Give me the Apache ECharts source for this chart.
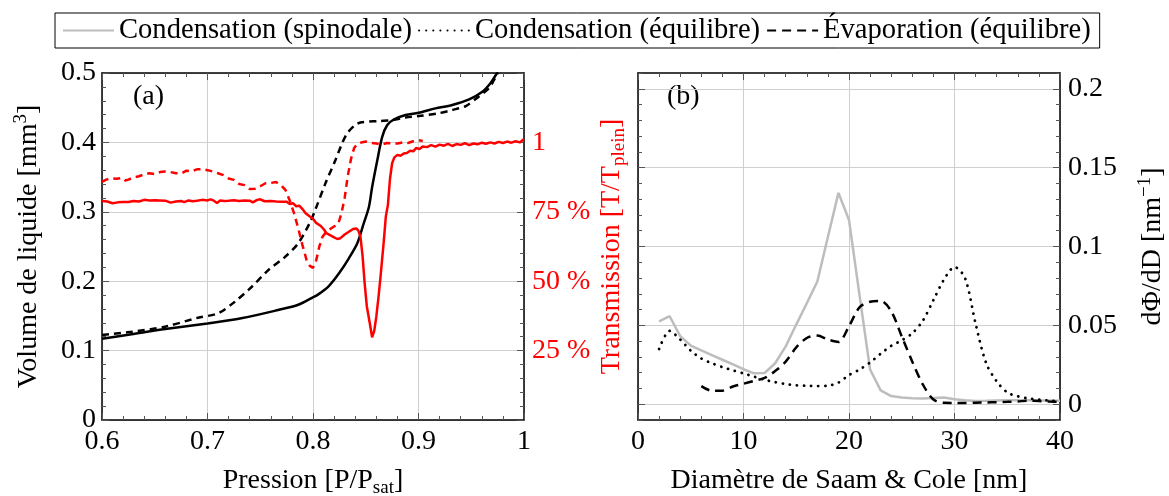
<!DOCTYPE html>
<html>
<head>
<meta charset="utf-8">
<script src="https://cdn.jsdelivr.net/npm/echarts@6/dist/echarts.min.js"></script>
<style>
  body { margin: 0; background: #fff; }
  #chart { width: 1169px; height: 496px; }
</style>
</head>
<body>
<div id="chart"></div>
<script>
// (a) volume de liquide [P, V]
var volCond = [[0.600,0.117],[0.628,0.1235],[0.660,0.131],[0.700,0.139],[0.732,0.1465],[0.767,0.1585],[0.786,0.166],[0.799,0.176],[0.805,0.181],[0.815,0.193],[0.8245,0.211],[0.834,0.233],[0.842,0.2546],[0.848,0.283],[0.853,0.307],[0.8561,0.336],[0.861,0.3746],[0.8656,0.408],[0.8704,0.425],[0.8766,0.433],[0.8877,0.4395],[0.900,0.4428],[0.916,0.449],[0.932,0.454],[0.948,0.462],[0.9605,0.473],[0.968,0.485],[0.9745,0.4995],[0.9755,0.5]];
var volEvap = [[0.600,0.1225],[0.628,0.127],[0.660,0.1345],[0.691,0.1474],[0.710,0.1537],[0.726,0.1705],[0.742,0.192],[0.7576,0.216],[0.7735,0.235],[0.786,0.2546],[0.7975,0.2857],[0.8027,0.305],[0.8118,0.341],[0.8213,0.3746],[0.8276,0.3987],[0.8324,0.413],[0.840,0.425],[0.846,0.429],[0.8624,0.4308],[0.875,0.432],[0.8877,0.436],[0.900,0.438],[0.919,0.442],[0.932,0.4467],[0.9448,0.4524],[0.957,0.4659],[0.9668,0.478],[0.9716,0.49],[0.9755,0.5]];

// (a) transmission [P, T/Tplein]
var transCond = [[0.600,0.789],[0.605,0.787],[0.610,0.781],[0.615,0.784],[0.620,0.785],[0.625,0.785],[0.630,0.789],[0.635,0.787],[0.640,0.793],[0.645,0.791],[0.650,0.792],[0.655,0.791],[0.660,0.790],[0.665,0.783],[0.670,0.787],[0.675,0.789],[0.678,0.785],[0.682,0.791],[0.686,0.788],[0.690,0.790],[0.695,0.793],[0.700,0.791],[0.703,0.795],[0.706,0.790],[0.709,0.782],[0.712,0.791],[0.716,0.789],[0.720,0.790],[0.725,0.792],[0.730,0.789],[0.735,0.791],[0.740,0.790],[0.743,0.784],[0.747,0.793],[0.750,0.795],[0.754,0.788],[0.760,0.789],[0.765,0.787],[0.770,0.786],[0.775,0.786],[0.778,0.778],[0.781,0.781],[0.784,0.770],[0.787,0.772],[0.790,0.760],[0.793,0.745],[0.797,0.733],[0.800,0.725],[0.803,0.710],[0.807,0.700],[0.810,0.688],[0.813,0.672],[0.817,0.664],[0.820,0.658],[0.823,0.652],[0.826,0.655],[0.830,0.668],[0.834,0.678],[0.838,0.688],[0.841,0.690],[0.843,0.682],[0.845,0.660],[0.847,0.590],[0.849,0.490],[0.851,0.410],[0.854,0.345],[0.856,0.298],[0.858,0.320],[0.860,0.372],[0.862,0.440],[0.864,0.516],[0.867,0.640],[0.869,0.732],[0.871,0.775],[0.873,0.870],[0.875,0.925],[0.877,0.945],[0.880,0.955],[0.883,0.952],[0.886,0.960],[0.889,0.962],[0.892,0.970],[0.895,0.968],[0.898,0.980],[0.901,0.976],[0.904,0.985],[0.908,0.983],[0.912,0.990],[0.916,0.985],[0.920,0.992],[0.924,0.988],[0.928,0.995],[0.932,0.987],[0.936,0.994],[0.940,0.991],[0.944,0.997],[0.948,0.990],[0.952,0.996],[0.956,0.993],[0.960,0.999],[0.964,0.995],[0.968,1.000],[0.972,0.996],[0.976,1.002],[0.980,0.998],[0.984,1.003],[0.988,0.999],[0.992,1.004],[0.996,1.000],[1.000,1.012]];
var transEvap = [[0.600,0.858],[0.604,0.866],[0.609,0.871],[0.614,0.869],[0.619,0.872],[0.622,0.863],[0.625,0.866],[0.630,0.874],[0.635,0.878],[0.640,0.885],[0.645,0.889],[0.650,0.886],[0.655,0.893],[0.660,0.895],[0.665,0.893],[0.670,0.889],[0.675,0.888],[0.680,0.898],[0.685,0.896],[0.690,0.903],[0.695,0.904],[0.700,0.900],[0.705,0.895],[0.710,0.889],[0.715,0.882],[0.720,0.870],[0.725,0.865],[0.730,0.850],[0.735,0.846],[0.740,0.832],[0.745,0.833],[0.750,0.842],[0.755,0.853],[0.760,0.854],[0.765,0.857],[0.770,0.845],[0.774,0.828],[0.778,0.790],[0.782,0.745],[0.786,0.690],[0.790,0.630],[0.794,0.575],[0.797,0.555],[0.800,0.548],[0.803,0.575],[0.806,0.625],[0.809,0.660],[0.813,0.680],[0.817,0.690],[0.821,0.700],[0.824,0.708],[0.827,0.745],[0.830,0.800],[0.833,0.880],[0.836,0.940],[0.839,0.980],[0.842,0.995],[0.846,1.000],[0.850,1.003],[0.855,0.998],[0.860,0.996],[0.865,0.992],[0.870,0.998],[0.875,0.997],[0.880,0.996],[0.885,1.000],[0.890,0.998],[0.895,1.004],[0.900,1.008],[0.904,1.005]];

// (b) distributions dPhi/dD
var diamA = [2,3,4,5,6,7,8,9,10,11,12,13,14,15,16,17,18,19,20,21,22,23,24,25,26,27,28,29,30,31,32,33,34,35,36,37,38,39,40];
var spinodale = [0.0525,0.0558,0.0432,0.0372,0.0342,0.0312,0.0282,0.0252,0.0222,0.0196,0.0198,0.026,0.0367,0.0505,0.064,0.0778,0.106,0.134,0.1168,0.069,0.022,0.0088,0.0052,0.0042,0.0038,0.0036,0.0040,0.0043,0.0032,0.0025,0.0021,0.0022,0.0024,0.0025,0.0026,0.0025,0.0024,0.0023,0.0022];
var condEq = [0.035,0.0465,0.041,0.034,0.029,0.026,0.0235,0.0215,0.0195,0.0175,0.0155,0.014,0.0128,0.012,0.0117,0.0115,0.0117,0.0137,0.0185,0.022,0.0265,0.032,0.037,0.0405,0.045,0.053,0.066,0.079,0.087,0.080,0.051,0.026,0.0145,0.0075,0.005,0.0037,0.003,0.0023,0.0018];
var diamB = [6,7,8,9,10,11,12,13,14,15,16,17,18,19,20,21,22,23,24,25,26,27,28,29,30,31,32,33,34,35,36,37,38,39,40];
var evapEq = [0.0115,0.0085,0.0086,0.0112,0.013,0.0148,0.0167,0.021,0.027,0.036,0.042,0.0435,0.041,0.0395,0.0495,0.0615,0.065,0.0655,0.059,0.043,0.027,0.0125,0.003,0.0009,0.0008,0.0008,0.001,0.0011,0.0013,0.0015,0.0018,0.0022,0.002,0.0017,0.0015];

var ticksB = [0, 0.05, 0.1, 0.15, 0.2];

function zip(xs, ys) {
  var out = [];
  for (var i = 0; i < xs.length; i++) out.push([xs[i], ys[i]]);
  return out;
}

var ff = 'Liberation Serif';
var fs = 28;
var tickCol = '#555';
var gridCol = '#cfcfcf';
var richTxt = {
  sub: { fontFamily: ff, fontSize: 19, lineHeight: 19, verticalAlign: 'bottom' },
  sup: { fontFamily: ff, fontSize: 19, lineHeight: 19, verticalAlign: 'top' }
};

function frameAxis(extra) {
  var base = {
    type: 'value',
    axisLine: { show: true, onZero: false, lineStyle: { color: '#000', width: 1.5 } },
    axisTick: { show: true, inside: true, length: 7, lineStyle: { color: tickCol } },
    minorTick: { show: true, splitNumber: 5, length: 4, lineStyle: { color: tickCol } },
    axisLabel: { show: false, fontFamily: ff, fontSize: fs, color: '#000' },
    splitLine: { show: false, lineStyle: { color: gridCol, width: 1 } },
    nameTextStyle: { fontFamily: ff, fontSize: fs, color: '#000', lineHeight: 34, rich: richTxt }
  };
  for (var k in extra) {
    if (typeof extra[k] === 'object' && !Array.isArray(extra[k]) && base[k]) {
      base[k] = Object.assign({}, base[k], extra[k]);
    } else {
      base[k] = extra[k];
    }
  }
  return base;
}

var chart = echarts.init(document.getElementById('chart'));

var option = {
  animation: false,
  legend: {
    top: 13,
    left: 55,
    data: ['Condensation (spinodale)', 'Condensation (équilibre)', 'Évaporation (équilibre)'],
    itemWidth: 51,
    itemHeight: 14,
    itemGap: 6,
    padding: [3, 9, 3, 7],
    borderColor: '#000',
    borderWidth: 1,
    itemStyle: { opacity: 0 },
    textStyle: { fontFamily: ff, fontSize: 28.6, color: '#000' }
  },
  grid: [
    { left: 102, top: 73, width: 422, height: 347, outerBoundsMode: 'none' },
    { left: 638, top: 73, width: 422, height: 347, outerBoundsMode: 'none' }
  ],
  xAxis: [
    frameAxis({
      gridIndex: 0, position: 'bottom', min: 0.6, max: 1, interval: 0.1,
      axisLabel: { show: true, margin: 8, formatter: function (v) { return Math.abs(v - 1) < 1e-9 ? '1' : v.toFixed(1); } },
      splitLine: { show: true },
      name: 'Pression [P/P{sub|sat}]', nameLocation: 'middle', nameGap: 44
    }),
    frameAxis({ gridIndex: 0, position: 'top', min: 0.6, max: 1, interval: 0.1 }),
    frameAxis({
      gridIndex: 1, position: 'bottom', min: 0, max: 40, interval: 10,
      axisLabel: { show: true, margin: 8 },
      splitLine: { show: true },
      name: 'Diamètre de Saam & Cole [nm]', nameLocation: 'middle', nameGap: 44
    }),
    frameAxis({ gridIndex: 1, position: 'top', min: 0, max: 40, interval: 10 })
  ],
  yAxis: [
    frameAxis({
      gridIndex: 0, position: 'left', min: 0, max: 0.5, interval: 0.1,
      axisLabel: { show: true, margin: 6, formatter: function (v) { return v === 0 ? '0' : v.toFixed(1); } },
      splitLine: { show: true },
      name: 'Volume de liquide [mm{sup|3}]', nameLocation: 'middle', nameRotate: 90, nameGap: 56
    }),
    frameAxis({
      gridIndex: 0, position: 'right', min: 0, max: 1.25, interval: 0.25,
      axisLabel: {
        show: true, margin: 8, color: '#f00',
        formatter: function (v) {
          if (Math.abs(v - 1) < 1e-9) return '1';
          if (v > 0.1 && v < 0.9) return Math.round(v * 100) + ' %';
          return '';
        }
      },
      name: 'Transmission [T/T{sub|plein}]', nameLocation: 'middle', nameRotate: 90, nameGap: 61,
      nameTextStyle: { color: '#f00', rich: {
        sub: { fontFamily: ff, fontSize: 19, lineHeight: 19, verticalAlign: 'bottom', color: '#f00' }
      } }
    }),
    // (b) axe de droite : graduations fines + labels
    frameAxis({
      gridIndex: 1, position: 'right', min: -0.01, max: 0.21, interval: 0.01,
      axisTick: { length: 4 },
      minorTick: { show: false },
      axisLabel: { show: true, margin: 8, customValues: ticksB },
      name: 'dΦ/dD [nm{sup|−1}]', nameLocation: 'middle', nameRotate: 90, nameGap: 76
    }),
    // (b) grandes graduations + grille
    frameAxis({
      gridIndex: 1, position: 'right', min: -0.01, max: 0.21,
      axisLine: { show: false },
      axisTick: { customValues: ticksB },
      minorTick: { show: false },
      splitLine: { show: true }
    }),
    frameAxis({
      gridIndex: 1, position: 'left', min: -0.01, max: 0.21, interval: 0.01,
      axisTick: { length: 4 },
      minorTick: { show: false }
    }),
    frameAxis({
      gridIndex: 1, position: 'left', min: -0.01, max: 0.21,
      axisLine: { show: false },
      axisTick: { customValues: ticksB },
      minorTick: { show: false }
    })
  ],
  graphic: [
    { type: 'text', left: 133, top: 83, style: { text: '(a)', fontFamily: ff, fontSize: fs, fill: '#000' } },
    { type: 'text', left: 667, top: 83, style: { text: '(b)', fontFamily: ff, fontSize: fs, fill: '#000' } }
  ],
  series: [
    { name: 'vol-cond', type: 'line', xAxisIndex: 0, yAxisIndex: 0, data: volCond, symbol: 'none', smooth: 0.3,
      lineStyle: { color: '#000', width: 2.5 } },
    { name: 'vol-evap', type: 'line', xAxisIndex: 0, yAxisIndex: 0, data: volEvap, symbol: 'none', smooth: 0.3,
      lineStyle: { color: '#000', width: 2.5, type: [7, 5] } },
    { name: 'trans-cond', type: 'line', xAxisIndex: 0, yAxisIndex: 1, data: transCond, symbol: 'none',
      lineStyle: { color: '#f00', width: 2.5 } },
    { name: 'trans-evap', type: 'line', xAxisIndex: 0, yAxisIndex: 1, data: transEvap, symbol: 'none',
      lineStyle: { color: '#f00', width: 2.5, type: [7, 5] } },
    { name: 'Condensation (spinodale)', type: 'line', xAxisIndex: 2, yAxisIndex: 2, data: zip(diamA, spinodale),
      symbol: 'none', itemStyle: { color: '#bdbdbd' }, lineStyle: { color: '#bdbdbd', width: 2.5 } },
    { name: 'Condensation (équilibre)', type: 'line', xAxisIndex: 2, yAxisIndex: 2, data: zip(diamA, condEq),
      symbol: 'none', smooth: 0.3, itemStyle: { color: '#000' },
      lineStyle: { color: '#000', width: 2.8, type: [0.1, 7], cap: 'round' } },
    { name: 'Évaporation (équilibre)', type: 'line', xAxisIndex: 2, yAxisIndex: 2, data: zip(diamB, evapEq),
      symbol: 'none', smooth: 0.3, itemStyle: { color: '#000' },
      lineStyle: { color: '#000', width: 2.5, type: [9, 6] } }
  ]
};

chart.setOption(option);
</script>
</body>
</html>
